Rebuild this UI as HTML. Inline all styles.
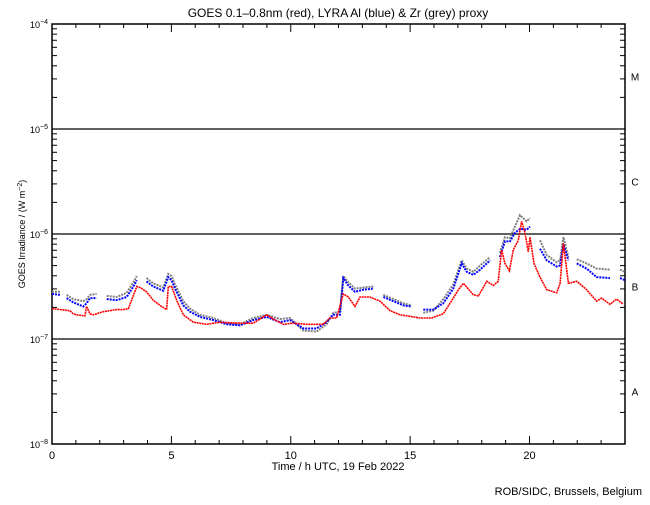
<!DOCTYPE html>
<html><head><meta charset="utf-8"><style>
body{margin:0;background:#fff}
svg text{font-family:"Liberation Sans",sans-serif;fill:#000}
</style></head><body>
<svg id="chart" width="650" height="500" viewBox="0 0 650 500" xmlns="http://www.w3.org/2000/svg">
<rect width="650" height="500" fill="#fff"/>
<text x="338" y="17" font-size="12" text-anchor="middle">GOES 0.1–0.8nm (red), LYRA Al (blue) &amp; Zr (grey) proxy</text>
<text x="338" y="470" font-size="11" text-anchor="middle">Time / h UTC, 19 Feb 2022</text>
<text transform="translate(25,234) rotate(-90)" font-size="9" text-anchor="middle">GOES Irradiance / (W m<tspan font-size="7" dy="-3">−2</tspan><tspan dy="3">)</tspan></text>
<text x="642" y="495" font-size="11" text-anchor="end">ROB/SIDC, Brussels, Belgium</text>
<g id="axes"></g>
<g id="series"></g>
</svg>
<script>
const xTicks=[0,5,10,15,20];
const yDecades=[-8,-7,-6,-5,-4];
const classLabels=["A","B","C","M"];
const redT=[0,0.75,0.89,1.03,1.38,1.45,1.59,1.73,2.15,2.71,2.99,3.20,3.55,3.69,3.96,4.24,4.52,4.80,4.87,5.01,5.22,5.50,5.92,6.48,7.04,7.87,8.43,8.99,9.27,9.69,10.11,10.67,11.36,11.64,11.92,12.20,12.41,12.69,12.90,13.32,13.74,14.16,14.58,15.13,15.41,15.90,16.39,16.81,17.02,17.23,17.65,17.86,18.21,18.49,18.69,18.83,18.97,19.16,19.32,19.53,19.67,19.81,19.95,20.02,20.19,20.44,20.72,21.14,21.28,21.42,21.63,21.98,22.39,22.81,23.02,23.37,23.65,23.93];
const redV=[-6.71,-6.73,-6.76,-6.77,-6.78,-6.69,-6.76,-6.77,-6.74,-6.72,-6.72,-6.71,-6.50,-6.51,-6.55,-6.63,-6.68,-6.72,-6.50,-6.50,-6.63,-6.77,-6.84,-6.86,-6.84,-6.85,-6.85,-6.77,-6.81,-6.86,-6.85,-6.86,-6.86,-6.80,-6.80,-6.57,-6.60,-6.69,-6.60,-6.60,-6.64,-6.73,-6.77,-6.79,-6.80,-6.80,-6.76,-6.61,-6.53,-6.47,-6.58,-6.59,-6.45,-6.49,-6.45,-6.15,-6.28,-6.35,-6.15,-6.06,-5.88,-5.99,-6.17,-6.03,-6.28,-6.41,-6.53,-6.56,-6.47,-6.09,-6.47,-6.45,-6.53,-6.64,-6.61,-6.67,-6.62,-6.67];
const blueT=[0,0.34,null,0.61,0.89,1.31,1.45,1.59,1.87,null,2.29,2.71,3.13,3.41,3.55,null,3.96,4.24,4.66,4.87,5.01,5.15,5.50,5.78,6.20,6.76,7.32,7.87,8.43,8.99,9.55,9.97,10.53,11.08,11.50,11.78,12.06,12.20,12.41,12.69,13.04,13.46,null,13.88,14.30,14.72,15.06,null,15.55,15.97,16.39,16.81,17.16,17.37,17.65,17.93,18.35,null,18.76,18.97,19.18,19.39,19.60,19.88,20.02,null,20.44,20.72,21.14,21.28,21.42,21.63,null,21.98,22.39,22.81,23.37,null,23.79,24.0];
const blueV=[-6.57,-6.58,null,-6.61,-6.65,-6.69,-6.66,-6.61,-6.61,null,-6.62,-6.63,-6.60,-6.50,-6.44,null,-6.45,-6.50,-6.54,-6.41,-6.44,-6.52,-6.68,-6.74,-6.79,-6.82,-6.86,-6.87,-6.82,-6.79,-6.84,-6.82,-6.90,-6.90,-6.84,-6.77,-6.77,-6.42,-6.49,-6.55,-6.53,-6.52,null,-6.60,-6.64,-6.68,-6.69,null,-6.72,-6.72,-6.66,-6.52,-6.28,-6.36,-6.39,-6.34,-6.25,null,-6.22,-6.07,-6.07,-5.99,-5.95,-5.96,-5.93,null,-6.14,-6.25,-6.31,-6.30,-6.10,-6.25,null,-6.28,-6.33,-6.41,-6.42,null,-6.42,-6.44];
const greyT=[0,0.34,null,0.61,0.89,1.31,1.45,1.59,1.87,null,2.29,2.71,3.13,3.41,3.55,null,3.96,4.24,4.66,4.87,5.01,5.15,5.50,5.78,6.20,6.76,7.32,7.87,8.43,8.99,9.55,9.97,10.53,11.08,11.50,11.78,12.06,12.20,12.41,12.69,13.04,13.46,null,13.88,14.30,14.72,15.06,null,15.55,15.97,16.39,16.81,17.16,17.37,17.65,17.93,18.35,null,18.76,18.97,19.18,19.39,19.60,19.88,20.02,null,20.44,20.72,21.14,21.28,21.42,21.63,null,21.98,22.39,22.81,23.37,null,23.79,24.0];
const greyV=[-6.55,-6.55,null,-6.58,-6.62,-6.64,-6.62,-6.58,-6.57,null,-6.59,-6.60,-6.56,-6.46,-6.40,null,-6.42,-6.47,-6.51,-6.38,-6.40,-6.48,-6.64,-6.71,-6.77,-6.80,-6.85,-6.86,-6.80,-6.77,-6.81,-6.80,-6.92,-6.93,-6.86,-6.75,-6.74,-6.40,-6.46,-6.52,-6.51,-6.50,null,-6.58,-6.62,-6.66,-6.68,null,-6.75,-6.73,-6.62,-6.48,-6.25,-6.33,-6.36,-6.30,-6.22,null,-6.18,-6.03,-6.04,-5.93,-5.82,-5.88,-5.85,null,-6.06,-6.20,-6.27,-6.25,-6.03,-6.22,null,-6.24,-6.28,-6.33,-6.34,null,-6.34,-6.36];

const L=52,R=625,T=24,B=444;
const xs=t=>L+(t/24)*(R-L);
const ys=v=>T+(-4-v)*(B-T)/4;
const NS="http://www.w3.org/2000/svg";
const axes=document.getElementById('axes'),series=document.getElementById('series');
function mk(tag,attrs,parent){const e=document.createElementNS(NS,tag);for(const k in attrs)e.setAttribute(k,attrs[k]);parent.appendChild(e);return e;}

const frame=mk('rect',{x:L,y:T,width:R-L,height:B-T,fill:'none',stroke:'#000','stroke-width':1.5},axes);


// decade grid lines & labels
yDecades.forEach(d=>{
  const y=ys(d);
  if(d>-8&&d<-4){const g=mk('line',{x1:L,x2:R,y1:y,y2:y,stroke:'#000','stroke-width':1.2},axes);
    
    }
  const tx=mk('text',{x:L-4,y:y+4,'font-size':9,'text-anchor':'end'},axes);
  
  
  tx.innerHTML='10<tspan font-size="7" dy="-4">'+(d<0?'−':'')+Math.abs(d)+'</tspan>';
  if(d<-4){for(let m=2;m<=9;m++){const ym=ys(d+Math.log10(m));
    mk('line',{x1:L,x2:L+5,y1:ym,y2:ym,stroke:'#000'},axes);
    mk('line',{x1:R,x2:R-5,y1:ym,y2:ym,stroke:'#000'},axes);}}
});
classLabels.forEach((c,i)=>{
  const t=mk('text',{x:635,y:ys(-7.5+i)+4,'font-size':10,'text-anchor':'middle'},axes);
  
  
  t.textContent=c;
});
for(let h=1;h<24;h++){const x=xs(h),len=h%5===0?8:4;
  mk('line',{x1:x,x2:x,y1:B,y2:B-len,stroke:'#000'},axes);
  mk('line',{x1:x,x2:x,y1:T,y2:T+len,stroke:'#000'},axes);}
xTicks.forEach(h=>{
  const t=mk('text',{x:xs(h),y:B+15,'font-size':11,'text-anchor':'middle'},axes);
  
  
  t.textContent=h;
});
function draw(tA,vA,color,name,dash,w){
  let segs=[],cur=[];
  tA.forEach((t,i)=>{if(t===null||vA[i]===null){if(cur.length)segs.push(cur);cur=[];}else cur.push(xs(t).toFixed(1)+','+ys(vA[i]).toFixed(1));});
  if(cur.length)segs.push(cur);
  segs.forEach(s=>{
    const p=mk('polyline',{points:s.join(' '),fill:'none',stroke:color,'stroke-width':w,'stroke-dasharray':dash},series);
    
    
  });
}
draw(greyT,greyV,'#808080','zr-grey-series','2 1',2);
draw(blueT,blueV,'#0000ff','al-blue-series','2 1',2);
draw(redT,redV,'#ff0000','goes-red-series','2 0.6',1.6);
</script>
</body></html>
